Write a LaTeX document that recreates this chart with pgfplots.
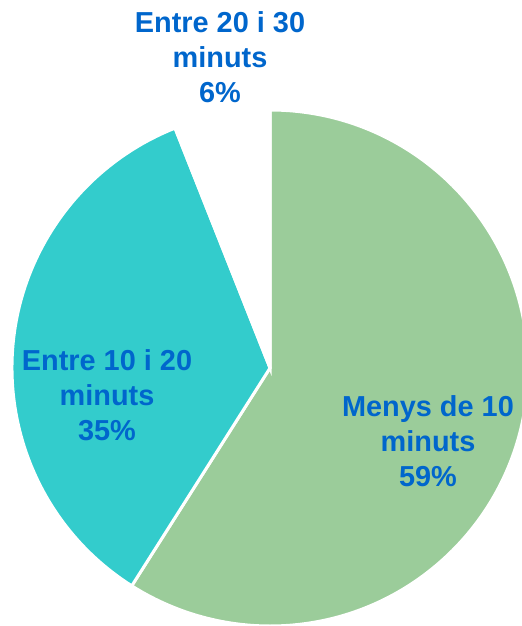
\documentclass[border=0pt]{standalone}
\usepackage{pgfplots}
\usepackage{pgfplotstable}
\pgfplotsset{compat=1.18}
\usepackage{fontspec}
\setmainfont{Liberation Sans}

\definecolor{slicegreen}{HTML}{9BCC9A}
\definecolor{sliceteal}{HTML}{33CCCC}
\definecolor{labelblue}{HTML}{0066CC}

% share of answers (percent), clockwise from the top
\pgfplotstableread{
share
59
35
6
}\pietable

\begin{document}
\begin{tikzpicture}
\pgfplotstablegetelem{0}{share}\of\pietable \let\sa\pgfplotsretval
\pgfplotstablegetelem{1}{share}\of\pietable \let\sb\pgfplotsretval
\pgfplotstablegetelem{2}{share}\of\pietable \let\sc\pgfplotsretval
\pgfmathsetmacro\angA{90}
\pgfmathsetmacro\angB{\angA-3.6*\sa}
\pgfmathsetmacro\angC{\angB-3.6*\sb}
\pgfmathsetmacro\angD{\angC-3.6*\sc}
\def\R{258}
\path (0,0) rectangle (522bp,626bp);
\begin{scope}[overlay]
\begin{axis}[
    at={(0,0)}, anchor=origin,
    x=1bp, y=1bp,
    xmin=0, xmax=522, ymin=0, ymax=626,
    hide axis,
    clip=true,
]
\fill[slicegreen, draw=white, line width=3bp]
    (axis cs:270,258) -- ++(\angA:\R bp) arc[start angle=\angA, end angle=\angB, radius=\R bp] -- cycle;
\fill[sliceteal, draw=white, line width=3bp]
    (axis cs:270,258) -- ++(\angB:\R bp) arc[start angle=\angB, end angle=\angC, radius=\R bp] -- cycle;
\fill[white, draw=white, line width=3bp]
    (axis cs:270,258) -- ++(\angC:\R bp) arc[start angle=\angC, end angle=\angD, radius=\R bp] -- cycle;

\node[align=center, text=labelblue, font=\fontsize{29}{35}\selectfont\bfseries]
    at (axis cs:220,569) {Entre 20 i 30\\minuts\\\sc\%};
\node[align=center, text=labelblue, font=\fontsize{29}{35}\selectfont\bfseries]
    at (axis cs:107,231) {Entre 10 i 20\\minuts\\\sb\%};
\node[align=center, text=labelblue, font=\fontsize{29}{35}\selectfont\bfseries]
    at (axis cs:428,185) {Menys de 10\\minuts\\\sa\%};
\end{axis}
\end{scope}
\end{tikzpicture}
\end{document}
